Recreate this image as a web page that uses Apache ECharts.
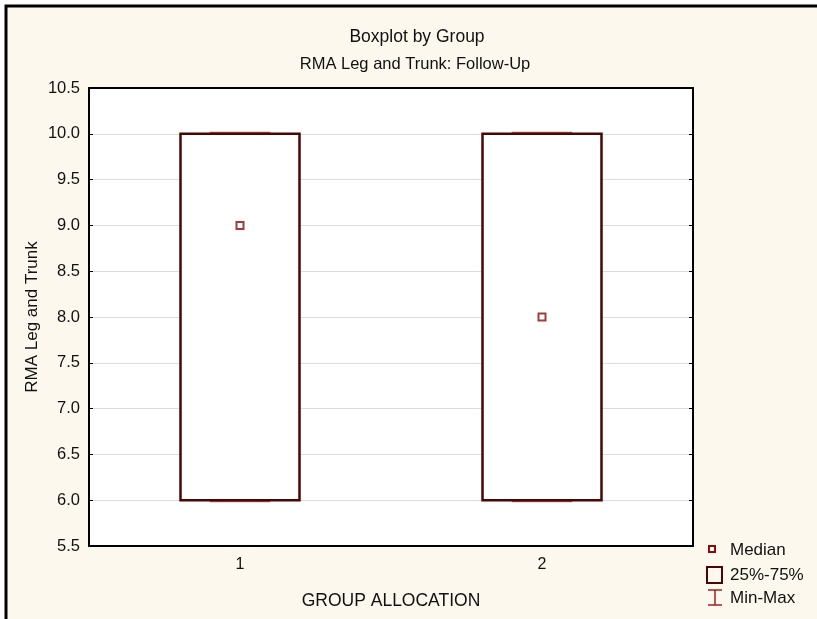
<!DOCTYPE html>
<html><head><meta charset="utf-8">
<script src="https://cdn.jsdelivr.net/npm/echarts@6/dist/echarts.min.js"></script>
<style>html,body{margin:0;padding:0;background:#fff}#c{width:817px;height:619px}</style>
</head><body><div id="c"></div>
<script>
const categories = ['1', '2'];
const q1 = [6.0, 6.0];
const q3 = [10.0, 10.0];
const minV = [6.0, 6.0];
const maxV = [10.0, 10.0];
const medians = [9.0, 8.0];
const yTicks = [5.5, 10.5, 0.5];

const chart = echarts.init(document.getElementById('c'), null, {renderer: 'canvas'});
const font = 'Arial, "Liberation Sans", sans-serif';
const boxData = categories.map((c, i) => [i, q1[i], q3[i], minV[i], maxV[i]]);
function txt(t, x, y, size, align) {
  return {type: 'text', z: 10, silent: true,
    style: {text: t, x: x, y: y, font: size + 'px ' + font, fill: '#111',
      textAlign: align || 'left', textVerticalAlign: 'middle'}};
}

chart.setOption({
  animation: false,
  textStyle: {fontFamily: font},
  graphic: [
    {type: 'rect', z: -10, silent: true, shape: {x: 6, y: 6, width: 840, height: 640},
     style: {fill: '#fdf8ee', stroke: '#000', lineWidth: 3}},
    txt('Boxplot by Group', 417, 37, 17.5, 'center'),
    txt('RMA Leg and Trunk: Follow-Up', 415, 64, 16.5, 'center'),
    // legend
    {type: 'rect', z: 10, shape: {x: 709, y: 546, width: 6, height: 6}, style: {fill: '#fff', stroke: '#8b0a0a', lineWidth: 2}},
    txt('Median', 730, 550, 17),
    {type: 'rect', z: 10, shape: {x: 707, y: 567, width: 15, height: 16}, style: {fill: 'none', stroke: '#4a0505', lineWidth: 2}},
    txt('25%-75%', 730, 575, 17),
    {type: 'polyline', z: 10, shape: {points: [[708, 590], [722, 590]]}, style: {stroke: '#a02020', lineWidth: 1.5}},
    {type: 'polyline', z: 10, shape: {points: [[715, 590], [715, 605]]}, style: {stroke: '#a02020', lineWidth: 1.5}},
    {type: 'polyline', z: 10, shape: {points: [[708, 605], [722, 605]]}, style: {stroke: '#a02020', lineWidth: 1.5}},
    txt('Min-Max', 730, 598, 17)
  ],
  grid: {left: 89, right: 124, top: 88, bottom: 73, show: true, backgroundColor: '#fff', borderWidth: 0},
  xAxis: [
    {type: 'category', data: categories, boundaryGap: true, position: 'bottom',
     name: 'GROUP ALLOCATION', nameLocation: 'middle', nameGap: 46,
     nameTextStyle: {fontSize: 17.5, color: '#111', fontFamily: font},
     axisLine: {lineStyle: {color: '#000', width: 2}},
     axisTick: {alignWithLabel: true, inside: true, length: 4, lineStyle: {color: '#000'}},
     axisLabel: {fontSize: 16, color: '#111', margin: 11, fontFamily: font},
     splitLine: {show: false}},
    {type: 'category', data: categories, boundaryGap: true, position: 'top',
     axisLine: {lineStyle: {color: '#000', width: 2}},
     axisTick: {alignWithLabel: true, inside: true, length: 4, lineStyle: {color: '#000'}},
     axisLabel: {show: false}, splitLine: {show: false}}
  ],
  yAxis: [
    {type: 'value', min: yTicks[0], max: yTicks[1], interval: yTicks[2], position: 'left',
     name: 'RMA Leg and Trunk', nameLocation: 'middle', nameGap: 48, nameRotate: 90,
     nameMoveOverlap: false,
     nameTextStyle: {fontSize: 17, color: '#111', fontFamily: font},
     axisLine: {show: true, lineStyle: {color: '#000', width: 2}},
     axisTick: {show: true, inside: true, length: 4, lineStyle: {color: '#000'}},
     axisLabel: {fontSize: 16.5, color: '#111', margin: 9, fontFamily: font, formatter: v => v.toFixed(1)},
     splitLine: {show: true, lineStyle: {color: '#dcdcdc', width: 1}}},
    {type: 'value', min: yTicks[0], max: yTicks[1], interval: yTicks[2], position: 'right',
     axisLine: {show: true, lineStyle: {color: '#000', width: 2}},
     axisTick: {show: true, inside: true, length: 4, lineStyle: {color: '#000'}},
     axisLabel: {show: false}, splitLine: {show: false}}
  ],
  series: [
    {type: 'custom', xAxisIndex: 0, yAxisIndex: 0, data: boxData, z: 5,
     renderItem: function (params, api) {
       const ci = api.value(0);
       const top = api.coord([ci, api.value(2)]);
       const bot = api.coord([ci, api.value(1)]);
       const pMin = api.coord([ci, api.value(3)]);
       const pMax = api.coord([ci, api.value(4)]);
       const band = api.size([1, 0])[0];
       const bw = band * 0.394;
       const cw = band * 0.2;
       const whisk = {stroke: '#b06868', lineWidth: 2};
       return {type: 'group', children: [
         {type: 'line', shape: {x1: pMax[0], y1: pMax[1], x2: top[0], y2: top[1]}, style: whisk},
         {type: 'line', shape: {x1: pMin[0], y1: pMin[1], x2: bot[0], y2: bot[1]}, style: whisk},
         {type: 'line', shape: {x1: pMax[0] - cw / 2, y1: pMax[1] - 1, x2: pMax[0] + cw / 2, y2: pMax[1] - 1}, style: whisk},
         {type: 'line', shape: {x1: pMin[0] - cw / 2, y1: pMin[1] + 1, x2: pMin[0] + cw / 2, y2: pMin[1] + 1}, style: whisk},
         {type: 'rect', shape: {x: top[0] - bw / 2, y: top[1], width: bw, height: bot[1] - top[1]},
          style: {fill: '#fff', stroke: '#4a0505', lineWidth: 2.5}}
       ]};
     }},
    {type: 'scatter', xAxisIndex: 0, yAxisIndex: 0, z: 6,
     data: categories.map((c, i) => [i, medians[i]]),
     symbol: 'rect', symbolSize: 7,
     itemStyle: {color: '#fff', borderColor: '#8b0a0a', borderWidth: 2}}
  ]
});
</script></body></html>
